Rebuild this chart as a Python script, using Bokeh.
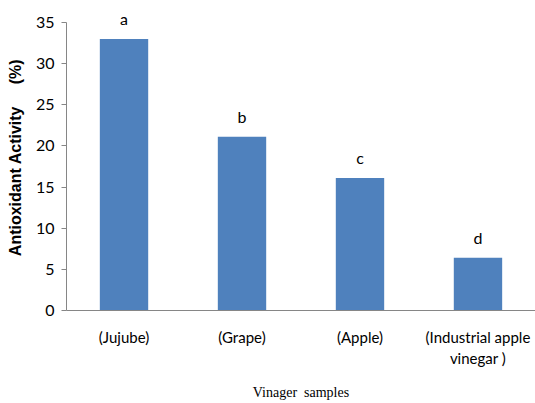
from bokeh.plotting import figure
from bokeh.models import ColumnDataSource, FactorRange, Range1d, SingleIntervalTicker
from bokeh.core.properties import value
from bokeh.embed import file_html
from bokeh.resources import INLINE

samples = ["(Jujube)", "(Grape)", "(Apple)", "(Industrial apple\nvinegar )"]
activity = [33.0, 21.1, 16.1, 6.4]
letters = ["a", "b", "c", "d"]
y_ticks_interval = 5

src = ColumnDataSource(dict(x=samples, y=activity, t=letters))

SANS = "Lato"
GRAY = "#868686"

p = figure(width=535, height=403, output_backend="svg", toolbar_location=None,
           x_range=FactorRange(*samples, range_padding=-0.0125, range_padding_units="absolute"),
           y_range=Range1d(0, 37.18),
           min_border_left=66, min_border_right=0, min_border_top=4, min_border_bottom=92)
p.outline_line_color = None
p.xgrid.grid_line_color = None
p.ygrid.grid_line_color = None
p.background_fill_color = "white"
p.border_fill_color = "white"

p.vbar(x="x", top="y", width=0.41, source=src, fill_color="#4F81BD", line_color=None)
p.text(x="x", y="y", text="t", source=src, text_align="center", text_baseline="alphabetic",
       y_offset=-20, text_font=value(SANS), text_font_size="16px", text_color="black")

ya = p.yaxis[0]
ya.ticker = SingleIntervalTicker(interval=y_ticks_interval)
ya.bounds = (0, 35)
ya.axis_line_color = GRAY
ya.major_tick_line_color = GRAY
ya.major_tick_out = 5
ya.major_tick_in = 0
ya.minor_tick_line_color = None
ya.major_label_text_font = SANS
ya.major_label_text_font_size = "16px"
ya.major_label_text_color = "black"
ya.major_label_standoff = 7
ya.axis_label = "Antioxidant Activity\u00a0\u00a0\u00a0\u00a0\u00a0(%)"
ya.axis_label_text_font = "Liberation Sans"
ya.axis_label_text_font_style = "bold"
ya.axis_label_text_font_size = "16px"
ya.axis_label_text_color = "black"
ya.axis_label_standoff = 9

xa = p.xaxis[0]
xa.axis_line_color = GRAY
xa.major_tick_line_color = None
xa.minor_tick_line_color = None
xa.major_label_text_font = SANS
xa.major_label_text_font_size = "15px"
xa.major_label_text_color = "black"
xa.major_label_standoff = 11
xa.axis_label = "Vinager\u00a0\u00a0samples"
xa.axis_label_text_font = "Liberation Serif"
xa.axis_label_text_font_style = "normal"
xa.axis_label_text_font_size = "14px"
xa.axis_label_text_color = "black"
xa.axis_label_standoff = 15

open("out.html", "w").write(file_html(p, INLINE))
